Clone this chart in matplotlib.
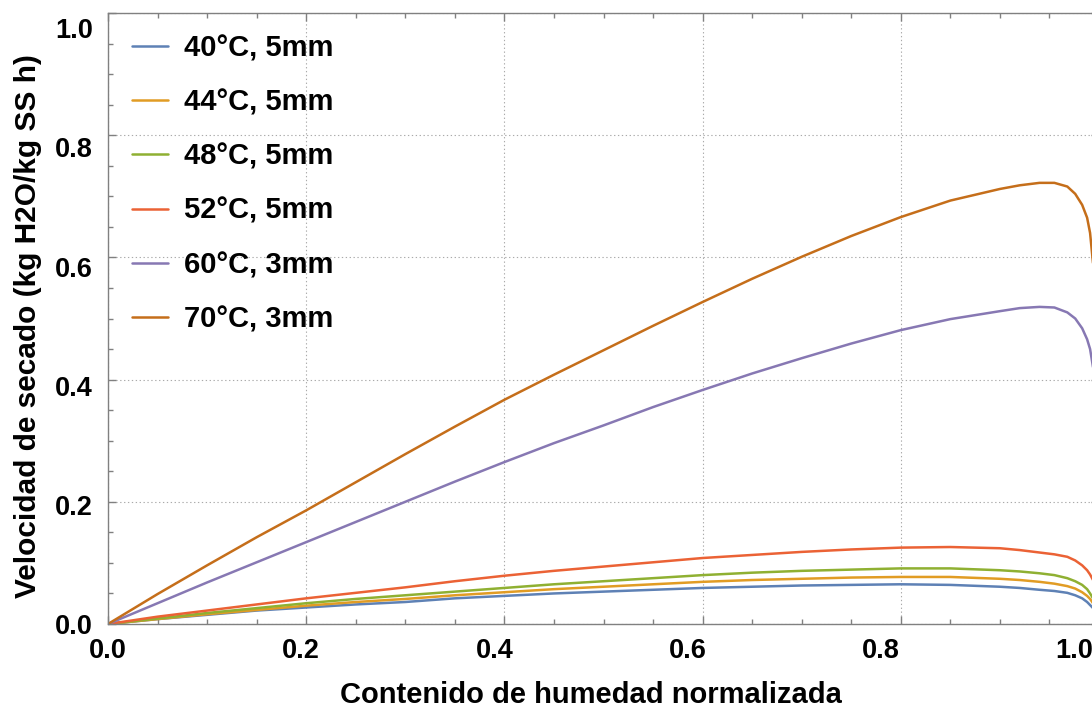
import matplotlib
matplotlib.use("Agg")
import matplotlib.pyplot as plt
from matplotlib.ticker import MultipleLocator

plt.rcParams["font.family"] = ["Liberation Sans", "DejaVu Sans"]
plt.rcParams["font.weight"] = "bold"
plt.rcParams["axes.labelweight"] = "bold"

# Normalised moisture content
moisture = [0.0, 0.05, 0.1, 0.15, 0.2, 0.25, 0.3, 0.35, 0.4, 0.45, 0.5, 0.55,
            0.6, 0.65, 0.7, 0.75, 0.8, 0.85, 0.9, 0.92, 0.94, 0.955, 0.968,
            0.976, 0.983, 0.988, 0.991, 0.994, 0.997, 1.0]

# Drying rate (kg H2O / kg dry solid h) for each condition
rate_40_5 = [0.0, 0.008, 0.015, 0.022, 0.027, 0.032, 0.036, 0.042, 0.046, 0.050,
             0.053, 0.056, 0.059, 0.061, 0.063, 0.064, 0.065, 0.064, 0.061, 0.059,
             0.056, 0.054, 0.051, 0.047, 0.042, 0.036, 0.031, 0.026, 0.015, 0.0]
rate_44_5 = [0.0, 0.008, 0.016, 0.023, 0.030, 0.036, 0.041, 0.047, 0.052, 0.057,
             0.061, 0.065, 0.069, 0.072, 0.074, 0.076, 0.077, 0.077, 0.074, 0.072,
             0.069, 0.066, 0.062, 0.058, 0.052, 0.046, 0.041, 0.034, 0.020, 0.0]
rate_48_5 = [0.0, 0.009, 0.018, 0.026, 0.034, 0.041, 0.047, 0.053, 0.059, 0.065,
             0.070, 0.075, 0.080, 0.084, 0.087, 0.089, 0.091, 0.091, 0.088, 0.086,
             0.083, 0.080, 0.075, 0.070, 0.064, 0.057, 0.050, 0.042, 0.030, 0.0]
rate_52_5 = [0.0, 0.012, 0.022, 0.032, 0.042, 0.051, 0.060, 0.070, 0.079, 0.087,
             0.094, 0.101, 0.108, 0.113, 0.118, 0.122, 0.125, 0.126, 0.124, 0.121,
             0.117, 0.114, 0.110, 0.104, 0.096, 0.088, 0.081, 0.072, 0.050, 0.0]
rate_60_3 = [0.0, 0.034, 0.068, 0.101, 0.134, 0.167, 0.200, 0.233, 0.265, 0.296,
             0.325, 0.355, 0.383, 0.410, 0.435, 0.459, 0.481, 0.499, 0.512, 0.517,
             0.519, 0.518, 0.510, 0.500, 0.484, 0.466, 0.450, 0.420, 0.330, 0.0]
rate_70_3 = [0.0, 0.049, 0.096, 0.142, 0.186, 0.232, 0.278, 0.323, 0.367, 0.408,
             0.448, 0.488, 0.527, 0.565, 0.601, 0.635, 0.666, 0.693, 0.712, 0.718,
             0.722, 0.722, 0.716, 0.704, 0.686, 0.665, 0.640, 0.590, 0.450, 0.0]

labels = ["40°C, 5mm", "44°C, 5mm", "48°C, 5mm",
          "52°C, 5mm", "60°C, 3mm", "70°C, 3mm"]
series = [rate_40_5, rate_44_5, rate_48_5, rate_52_5, rate_60_3, rate_70_3]
colors = ["#5E81B5", "#E19C24", "#8FB032", "#EB6235", "#8778B3", "#C56E1A"]

x_ticks = [0.0, 0.2, 0.4, 0.6, 0.8, 1.0]
y_ticks = [0.0, 0.2, 0.4, 0.6, 0.8, 1.0]

W, H = 1092, 709
fig = plt.figure(figsize=(W / 100, H / 100), dpi=100)

left, bottom, aw, ah = 108, 85, 991, 611
ax = fig.add_axes([left / W, bottom / H, aw / W, ah / H])

for vals, lab, col in zip(series, labels, colors):
    ax.plot(moisture, vals, color=col, lw=1.8, label=lab,
            solid_capstyle="round", solid_joinstyle="round")

ax.set_xlim(0, 1.0)
ax.set_ylim(0, 1.0)
ax.xaxis.set_major_locator(MultipleLocator(0.2))
ax.xaxis.set_minor_locator(MultipleLocator(0.05))
ax.yaxis.set_major_locator(MultipleLocator(0.2))
ax.yaxis.set_minor_locator(MultipleLocator(0.05))
frame_col = "#808080"
ax.tick_params(which="both", direction="in", top=True, right=True,
               color=frame_col, width=1.0, labelbottom=False, labelleft=False)
ax.tick_params(which="major", length=6)
ax.tick_params(which="minor", length=3.5)
for s in ax.spines.values():
    s.set_color(frame_col)
    s.set_linewidth(1.0)
ax.grid(True, which="major", color="#aaaaaa", lw=0.8, linestyle=(0, (1.2, 2.3)))

# Tick labels and axis titles on a slightly tighter overlay scale
lab_ax = fig.add_axes([left / W, bottom / H, aw * 0.975 / W, ah * 0.975 / H])
lab_ax.set_facecolor("none")
lab_ax.set_xlim(0, 1.0)
lab_ax.set_ylim(0, 1.0)
lab_ax.set_xticks(x_ticks)
lab_ax.set_yticks(y_ticks)
lab_ax.set_xticklabels([f"{v:.1f}" for v in x_ticks])
lab_ax.set_yticklabels([f"{v:.1f}" for v in y_ticks])
lab_ax.tick_params(length=0, labelsize=19.5, pad=10)
lab_ax.tick_params(axis="y", pad=11)
for s in lab_ax.spines.values():
    s.set_visible(False)
lab_ax.set_xlabel("Contenido de humedad normalizada", fontsize=21, labelpad=12)
lab_ax.set_ylabel("Velocidad de secado (kg H2O/kg SS h)", fontsize=21.5, labelpad=9)

ax.legend(loc="upper left", bbox_to_anchor=(0.024, 0.9656), frameon=False,
          fontsize=21, handlelength=1.25, handletextpad=0.55, labelspacing=0.9,
          borderpad=0, borderaxespad=0)

fig.savefig("out.png", dpi=100)
